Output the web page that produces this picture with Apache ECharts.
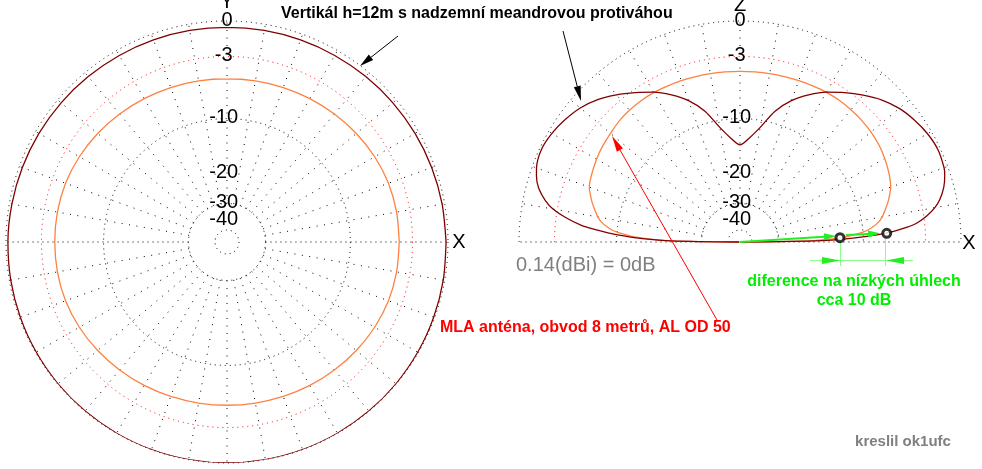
<!DOCTYPE html>
<html><head><meta charset="utf-8">
<script src="https://cdn.jsdelivr.net/npm/echarts@6/dist/echarts.min.js"></script>
<style>html,body{margin:0;padding:0;background:#fff}#c{width:982px;height:469px}</style>
</head><body><div id="c"></div>
<script>
// ---- data (dB relative to 0.14 dBi) ----
const azAngles = [0,10,20,30,40,50,60,70,80,90,100,110,120,130,140,150,160,170,180,190,200,210,220,230,240,250,260,270,280,290,300,310,320,330,340,350,360];
const azVertical = [-0.15,-0.2,-0.25,-0.3,-0.35,-0.4,-0.44,-0.47,-0.49,-0.5,-0.49,-0.47,-0.44,-0.4,-0.35,-0.3,-0.25,-0.2,-0.15,-0.11,-0.08,-0.05,-0.03,-0.02,-0.01,0,0,0,0,0,-0.01,-0.02,-0.03,-0.05,-0.08,-0.11,-0.15];
const azMla = [-4.28,-4.28,-4.32,-4.45,-4.62,-4.8,-4.95,-5.08,-5.17,-5.2,-5.17,-5.08,-4.95,-4.8,-4.62,-4.45,-4.32,-4.28,-4.28,-4.28,-4.32,-4.45,-4.62,-4.8,-4.95,-5.08,-5.17,-5.2,-5.17,-5.08,-4.95,-4.8,-4.62,-4.45,-4.32,-4.28,-4.28];

const elAngles = [0,1,2,3,4,5,6,8,10,12,15,18,20,25,30,35,40,45,50,55,60,65,70,75,80,85,90,95,100,105,110,115,120,125,130,135,140,145,150,155,160,162,165,168,170,172,174,175,176,177,178,179,180];
const elVertical = [-99,-17,-11.5,-8.2,-6.2,-4.8,-3.8,-2.7,-1.9,-1.35,-0.8,-0.45,-0.3,-0.2,-0.35,-0.65,-1.05,-1.65,-2.45,-3.3,-4.2,-5.3,-6.6,-8.4,-11.0,-12.9,-14.1,-12.9,-11.0,-8.4,-6.6,-5.3,-4.2,-3.3,-2.4,-1.6,-1.0,-0.6,-0.3,-0.15,-0.35,-0.55,-1.0,-1.8,-2.6,-3.9,-5.6,-7.0,-8.8,-11,-14,-20,-99];
const elMla = [-99,-20,-15,-12.2,-10.7,-9.6,-8.9,-7.9,-7.3,-6.9,-6.3,-5.8,-5.5,-5.1,-4.8,-4.55,-4.4,-4.3,-4.25,-4.2,-4.22,-4.28,-4.33,-4.38,-4.41,-4.43,-4.43,-4.43,-4.41,-4.38,-4.33,-4.3,-4.25,-4.25,-4.3,-4.4,-4.6,-4.75,-4.95,-5.2,-5.5,-5.8,-6.3,-6.9,-7.3,-7.9,-8.9,-9.6,-10.7,-12.2,-15,-20,-99];

const markerDb = [-13.6, -7.0];
const markerAngle = [2.5, 3.4];

const gridRingDb = [0, -3, -10, -30, -50];
const ringLabels = ['0', '-3', '-10', '-20', '-30', '-40'];
const ringLabelDb = [0, -3, -10, -20, -30, -40];

// ARRL log-periodic radial scale (0.89 per 2 dB)
function arrl(db) { return Math.pow(0.89, -db / 2); }

const FONT = '"Liberation Sans", Arial, sans-serif';
const mctx = document.createElement('canvas').getContext('2d');
function textW(t, font) { mctx.font = font; return mctx.measureText(t).width; }

function ringSeries(pi, half) {
  return {
    type: 'custom', coordinateSystem: 'polar', polarIndex: pi, silent: true, z: 1,
    data: gridRingDb.map(d => [arrl(d), 0]),
    renderItem: function (params, api) {
      const c = api.coord([0, 0]);
      const p = api.coord([api.value(0), 0]);
      const r = Math.hypot(p[0] - c[0], p[1] - c[1]);
      const col = gridRingDb[params.dataIndex] === -3 ? '#ff0000' : '#000000';
      const style = { fill: 'none', stroke: col, lineWidth: 1, lineDash: [1, 4] };
      if (half) return { type: 'arc', shape: { cx: c[0], cy: c[1], r: r, startAngle: Math.PI, endAngle: 2 * Math.PI, clockwise: true }, style: style };
      return { type: 'circle', shape: { cx: c[0], cy: c[1], r: r }, style: style };
    }
  };
}
function spokeSeries(pi, maxAng) {
  const angs = [];
  for (let a = 0; a <= maxAng; a += 10) angs.push(a);
  return {
    type: 'custom', coordinateSystem: 'polar', polarIndex: pi, silent: true, z: 1,
    data: angs.map(a => [1, a]),
    renderItem: function (params, api) {
      const a = api.value(1);
      const p1 = api.coord([arrl(-30), a]);
      const p2 = api.coord([1, a]);
      const flat = (a % 180 === 0);
      return { type: 'line', shape: { x1: p1[0], y1: p1[1], x2: p2[0], y2: p2[1] }, style: { stroke: '#000', lineWidth: 1, lineDash: flat ? [1, 4] : [1, 6.5] } };
    }
  };
}
function labelSeries(pi) {
  const font = '20px ' + FONT;
  return {
    type: 'custom', coordinateSystem: 'polar', polarIndex: pi, silent: true, z: 5,
    data: ringLabelDb.map(d => [arrl(d), 90]),
    renderItem: function (params, api) {
      const lbl = ringLabels[params.dataIndex];
      const p = api.coord([api.value(0), 90]);
      const dw = textW(lbl.replace('-', ''), font);
      return { type: 'text', x: p[0] + dw / 2, y: p[1] - 1, style: { text: lbl, font: font, fill: '#000', align: 'right', verticalAlign: 'middle' } };
    }
  };
}
function curve(pi, angles, vals, color) {
  return {
    type: 'line', coordinateSystem: 'polar', polarIndex: pi, z: 3,
    data: angles.map((a, i) => [arrl(vals[i]), a]),
    showSymbol: false, smooth: 0.3, silent: true,
    lineStyle: { color: color, width: 1.3 }
  };
}

// annotations
const ann = [];
function head(x1, y1, x2, y2, color, hl, hw) {
  const L = Math.hypot(x2 - x1, y2 - y1), ux = (x2 - x1) / L, uy = (y2 - y1) / L;
  const bx = x2 - ux * hl, by = y2 - uy * hl;
  ann.push({ type: 'polygon', z: 50, shape: { points: [[x2, y2], [bx - uy * hw, by + ux * hw], [bx + uy * hw, by - ux * hw]] }, style: { fill: color } });
  return [bx, by];
}
function arrow(x1, y1, x2, y2, color, lw, hl, hw) {
  const b = head(x1, y1, x2, y2, color, hl, hw);
  ann.push({ type: 'line', z: 49, shape: { x1: x1, y1: y1, x2: b[0], y2: b[1] }, style: { stroke: color, lineWidth: lw } });
}
function seg(x1, y1, x2, y2, color, lw) {
  ann.push({ type: 'line', z: 48, shape: { x1: x1, y1: y1, x2: x2, y2: y2 }, style: { stroke: color, lineWidth: lw } });
}
function txt(x, y, s, font, color, align) {
  ann.push({ type: 'text', z: 60, x: x, y: y, style: { text: s, font: font, fill: color, align: align || 'left', verticalAlign: 'middle' } });
}
arrow(398, 36, 360, 66, '#000', 1, 14, 3.5);
arrow(563, 31, 581, 101, '#000', 1, 15, 3.5);
arrow(717, 320, 612, 136, '#ff0000', 1, 16, 3.5);
arrow(740, 242, 836, 236, '#22ee22', 2, 12, 3.5);
arrow(846, 235, 880, 233.3, '#22ee22', 2, 12, 3.5);
seg(810, 260.5, 913, 260.5, '#88ff88', 1);
seg(840.5, 238, 840.5, 266, '#88ff88', 1);
seg(885.5, 233, 885.5, 266, '#88ff88', 1);
head(820, 260.5, 840, 260.5, '#22ee22', 18, 3.5);
head(906, 260.5, 886, 260.5, '#22ee22', 18, 3.5);

txt(281, 14, 'Vertikál h=12m s nadzemní meandrovou protiváhou', 'bold 16px ' + FONT, '#000');
txt(516, 265, '0.14(dBi) = 0dB', '20px ' + FONT, '#808080');
txt(440, 328, 'MLA anténa, obvod 8 metrů, AL OD 50', 'bold 16px ' + FONT, '#ff0000');
txt(854, 282, 'diference na nízkých úhlech', 'bold 16px ' + FONT, '#00ee00', 'center');
txt(854, 301, 'cca 10 dB', 'bold 16px ' + FONT, '#00ee00', 'center');
txt(903, 442, 'kreslil ok1ufc', 'bold 15px ' + FONT, '#808080', 'center');
txt(227, 2, 'Y', '20px ' + FONT, '#000', 'center');
txt(740, 5, 'Z', '20px ' + FONT, '#000', 'center');
txt(459, 242, 'X', '20px ' + FONT, '#000', 'center');
txt(969, 243, 'X', '20px ' + FONT, '#000', 'center');

const chart = echarts.init(document.getElementById('c'), null, { renderer: 'canvas' });
chart.setOption({
  animation: false,
  backgroundColor: '#fff',
  polar: [{ center: [227, 242], radius: 221 }, { center: [740, 242], radius: 221 }],
  angleAxis: [
    { polarIndex: 0, type: 'value', min: 0, max: 360, startAngle: 0, clockwise: false, show: false },
    { polarIndex: 1, type: 'value', min: 0, max: 360, startAngle: 0, clockwise: false, show: false }
  ],
  radiusAxis: [
    { polarIndex: 0, type: 'value', min: 0, max: 1, show: false },
    { polarIndex: 1, type: 'value', min: 0, max: 1, show: false }
  ],
  series: [
    ringSeries(0, false), ringSeries(1, true),
    spokeSeries(0, 350), spokeSeries(1, 180),
    labelSeries(0), labelSeries(1),
    curve(0, azAngles, azMla, '#ff8040'),
    curve(0, azAngles, azVertical, '#800000'),
    curve(1, elAngles, elMla, '#ff8040'),
    curve(1, elAngles, elVertical, '#800000'),
    {
      type: 'scatter', coordinateSystem: 'polar', polarIndex: 1, z: 70, silent: true,
      data: markerDb.map((d, i) => [arrl(d), markerAngle[i]]),
      symbol: 'circle', symbolSize: 8,
      itemStyle: { color: '#fff', borderColor: '#000', borderWidth: 3 }
    }
  ],
  graphic: { elements: ann }
});
</script></body></html>
